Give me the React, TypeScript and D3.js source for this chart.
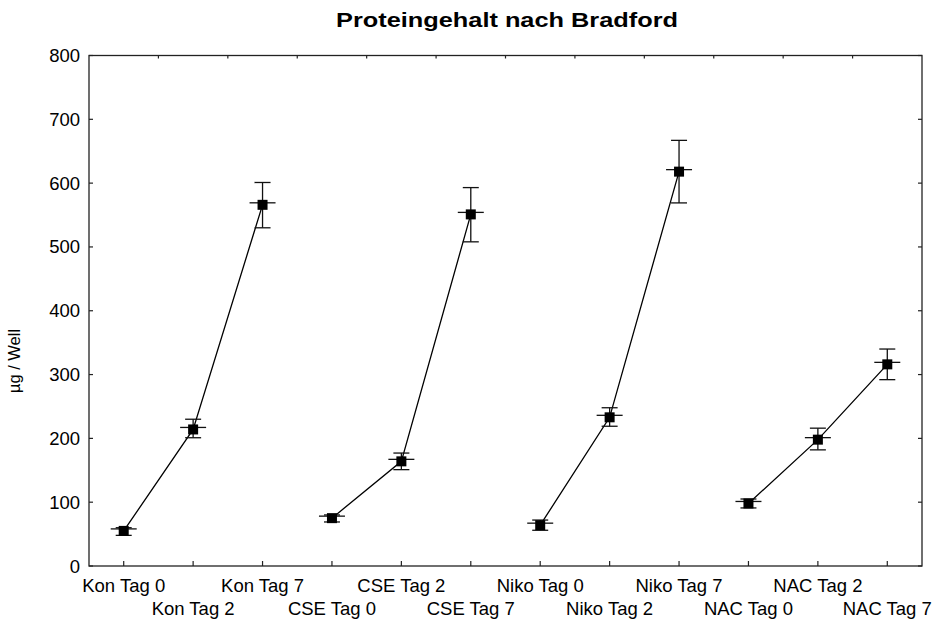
import React from "react";
import * as d3 from "d3";

const categories = [
  "Kon Tag 0", "Kon Tag 2", "Kon Tag 7",
  "CSE Tag 0", "CSE Tag 2", "CSE Tag 7",
  "Niko Tag 0", "Niko Tag 2", "Niko Tag 7",
  "NAC Tag 0", "NAC Tag 2", "NAC Tag 7",
];
const groups = [0, 0, 0, 1, 1, 1, 2, 2, 2, 3, 3, 3];
const means = [55, 214, 566, 75, 164, 551, 64, 233, 618, 98, 198, 316];
const lower = [48, 201, 530, 69, 151, 508, 56, 219, 569, 91, 182, 292];
const upper = [60, 230, 601, 80, 177, 593, 72, 248, 667, 105, 216, 340];
const yTicks = [0, 100, 200, 300, 400, 500, 600, 700, 800];

const W = 942, H = 621;
const left = 89, right = 922, top = 55.5, bottom = 566;
const font = "Liberation Sans, Arial, Helvetica, sans-serif";

export default function App() {
  const x = d3.scaleBand<string>().domain(categories).range([left, right]).padding(0);
  const y = d3.scaleLinear().domain([0, 800]).range([bottom, top]);
  const cx = (c: string) => (x(c) as number) + x.bandwidth() / 2;
  const line = d3.line<number>().x((i) => cx(categories[i])).y((i) => y(means[i]));
  const groupIdx = d3.groups(d3.range(categories.length), (i) => groups[i]).map((g) => g[1]);
  const boundaries = categories.slice(1).map((c) => x(c) as number);

  return (
    <svg width={W} height={H} style={{ position: "absolute", left: 0, top: 0, background: "#fff" }}>
      <rect x={0} y={0} width={W} height={H} fill="#fff" />
      <text x={507} y={27} textAnchor="middle" fontFamily={font} fontWeight="bold" fontSize={20} fill="#000"
        textLength={342} lengthAdjust="spacingAndGlyphs">
        Proteingehalt nach Bradford
      </text>
      <text transform={`translate(20,${361}) rotate(-90)`} textAnchor="middle" fontFamily={font} fontSize={16.5} fill="#000">
        µg / Well
      </text>
      <rect x={left} y={top} width={right - left} height={bottom - top} fill="none" stroke="#222" strokeWidth={1.3} />
      {yTicks.map((t) => (
        <g key={t}>
          <line x1={left} x2={left + 4} y1={y(t)} y2={y(t)} stroke="#222" strokeWidth={1.2} />
          <line x1={right - 4} x2={right} y1={y(t)} y2={y(t)} stroke="#222" strokeWidth={1.2} />
          <text x={80} y={y(t) + 6.5} textAnchor="end" fontFamily={font} fontSize={18.5} fill="#000">
            {t}
          </text>
        </g>
      ))}
      {categories.map((c, i) => (
        <g key={c}>
          <line x1={cx(c)} x2={cx(c)} y1={bottom} y2={bottom - 5} stroke="#222" strokeWidth={1.2} />
          <text x={cx(c)} y={i % 2 === 0 ? 591.5 : 615} textAnchor="middle" fontFamily={font} fontSize={18.5} fill="#000">
            {c}
          </text>
        </g>
      ))}
      {boundaries.map((b, i) => (
        <line key={i} x1={b} x2={b} y1={top} y2={top + 3} stroke="#222" strokeWidth={1.2} />
      ))}
      {groupIdx.map((g, k) => (
        <path key={k} d={line(g) || ""} fill="none" stroke="#000" strokeWidth={1.3} />
      ))}
      {categories.map((c, i) => {
        const px = cx(c);
        return (
          <g key={c}>
            <line x1={px} x2={px} y1={y(upper[i])} y2={y(lower[i])} stroke="#111" strokeWidth={1.3} />
            <line x1={px - 8} x2={px + 8} y1={y(upper[i])} y2={y(upper[i])} stroke="#111" strokeWidth={1.3} />
            <line x1={px - 8} x2={px + 8} y1={y(lower[i])} y2={y(lower[i])} stroke="#111" strokeWidth={1.3} />
            <line x1={px - 13} x2={px + 13} y1={y(means[i]) - 2} y2={y(means[i]) - 2} stroke="#111" strokeWidth={1.3} />
            <rect x={px - 5} y={y(means[i]) - 5} width={10} height={10} fill="#000" />
          </g>
        );
      })}
    </svg>
  );
}
